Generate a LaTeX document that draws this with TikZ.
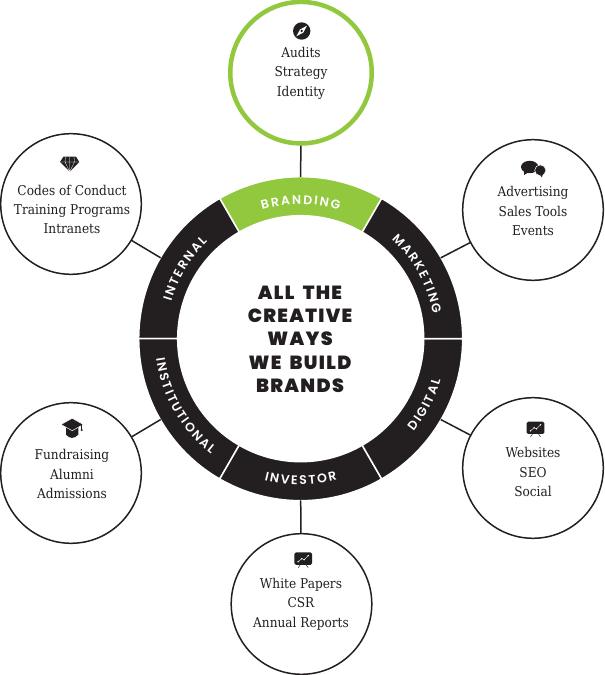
\documentclass[tikz,border=0pt]{standalone}
\usepackage{fontspec}
\usetikzlibrary{decorations.text}
\newfontfamily\listfont[FakeStretch=0.9]{DejaVu Serif}
\newfontfamily\ringfont{Poppins SemiBold}
\newfontfamily\headfont[LetterSpace=7,WordSpace=1.8]{Poppins Black}
\definecolor{ringblack}{HTML}{231F20}
\definecolor{ringgreen}{HTML}{91C83E}
\newcommand{\rk}{\kern1.8pt}
\tikzset{
  bubble/.style = {circle, draw = ringblack, line width = 1.5pt, fill = white, minimum size = 140.6pt, inner sep = 0pt},
  bubblegreen/.style = {bubble, draw = ringgreen, line width = 4.5pt, minimum size = 141.5pt},
  listing/.style = {align = center, inner sep = 0pt, text = ringblack, font = \listfont\fontsize{13.5}{19.4}\selectfont},
  link/.style = {draw = ringblack, line width = 1.5pt},
  sector/.style = {fill = ringblack, draw = white, line width = 1.5pt},
  ringlabel/.style = {postaction = {decorate}, decoration = {text along path, text align = center, text = {|\ringfont\fontsize{12.5}{13}\selectfont\color{white}|#1}}}
}
\begin{document}
\begin{tikzpicture}[x = 1pt, y = 1pt]
\useasboundingbox (0,0) rectangle (605,675);
\node[bubblegreen] (audits) at (301,602.3) {};
\node[bubble] (internal) at (71,471) {};
\node[bubble] (marketing) at (533,465) {};
\node[bubble] (institutional) at (71,202) {};
\node[bubble] (digital) at (533,207) {};
\node[bubble] (investor) at (301.5,71) {};
\node[listing] (auditstext) at (301,602) {Audits\\Strategy\\Identity};
\node[listing] (internaltext) at (72,465.5) {Codes of Conduct\\Training Programs\\Intranets};
\node[listing] (marketingtext) at (533,464) {Advertising\\Sales Tools\\Events};
\node[listing] (institutionaltext) at (72,201) {Fundraising\\Alumni\\Admissions};
\node[listing] (digitaltext) at (533,203) {Websites\\SEO\\Social};
\node[listing] (investortext) at (301,71) {White Papers\\CSR\\Annual Reports};
\begin{scope}[shift = {(300.7,336.3)}]
\node[circle, minimum size = 323pt, inner sep = 0pt] (ring) at (0,0) {};
\filldraw[sector, fill = ringgreen] (60:123) arc[start angle = 60, end angle = 120, radius = 123] -- (120:162) arc[start angle = 120, end angle = 60, radius = 162] -- cycle;
\filldraw[sector] (120:123) arc[start angle = 120, end angle = 180, radius = 123] -- (180:162) arc[start angle = 180, end angle = 120, radius = 162] -- cycle;
\filldraw[sector] (180:123) arc[start angle = 180, end angle = 240, radius = 123] -- (240:162) arc[start angle = 240, end angle = 180, radius = 162] -- cycle;
\filldraw[sector] (240:123) arc[start angle = 240, end angle = 300, radius = 123] -- (300:162) arc[start angle = 300, end angle = 240, radius = 162] -- cycle;
\filldraw[sector] (300:123) arc[start angle = 300, end angle = 360, radius = 123] -- (0:162) arc[start angle = 360, end angle = 300, radius = 162] -- cycle;
\filldraw[sector] (0:123) arc[start angle = 0, end angle = 60, radius = 123] -- (60:162) arc[start angle = 60, end angle = 0, radius = 162] -- cycle;
\path[ringlabel = {{B\rk}{R\rk}{A\rk}{N\rk}{D\rk}{I\rk}{N\rk}{G}}] (125:134.5) arc[start angle = 125, end angle = 55, radius = 134.5];
\path[ringlabel = {{I\rk}{N\rk}{T\rk}{E\rk}{R\rk}{N\rk}{A\rk}{L}}] (184:134.5) arc[start angle = 184, end angle = 114, radius = 134.5];
\path[ringlabel = {{M\rk}{A\rk}{R\rk}{K\rk}{E\rk}{T\rk}{I\rk}{N\rk}{G}}] (64:134.5) arc[start angle = 64, end angle = -6, radius = 134.5];
\path[ringlabel = {{I\rk}{N\rk}{S\rk}{T\rk}{I\rk}{T\rk}{U\rk}{T\rk}{I\rk}{O\rk}{N\rk}{A\rk}{L}}] (165:146) arc[start angle = 165, end angle = 255, radius = 146];
\path[ringlabel = {{I\rk}{N\rk}{V\rk}{E\rk}{S\rk}{T\rk}{O\rk}{R}}] (235:146) arc[start angle = 235, end angle = 305, radius = 146];
\path[ringlabel = {{D\rk}{I\rk}{G\rk}{I\rk}{T\rk}{A\rk}{L}}] (-63:146) arc[start angle = -63, end angle = 7, radius = 146];
\node[align = center, inner sep = 0pt, text = ringblack, font = \headfont\fontsize{19}{23.2}\selectfont] (heading) at (-0.7,-0.5) {ALL THE\\CREATIVE\hspace*{7pt}\\WAYS\\WE BUILD\\BRANDS};
\end{scope}
\draw[link] (ring.90) -- (audits);
\draw[link] (ring.150) -- (internal);
\draw[link] (ring.30) -- (marketing);
\draw[link] (ring.210) -- (institutional);
\draw[link] (ring.330) -- (digital);
\draw[link] (ring.270) -- (investor);
\fill[ringblack] (301.7,644) circle (8.7);
\fill[white] (307,649.3) -- (303.3,642.4) -- (296.4,638.7) -- (300.1,645.6) -- cycle;
\fill[ringblack] (301.7,644) circle (1.3);
\fill[ringblack] (63.5,518.3) -- (76,518.3) -- (79.3,513) -- (69.7,503.3) -- (60,513) -- cycle;
\draw[white, line width = 0.3pt] (60,513) -- (79.3,513) (65.5,518.3) -- (65,513) -- (69.7,503.3) -- (74.4,513) -- (74,518.3) (69.7,518.3) -- (69.7,503.3);
\fill[ringblack] (529.7,508) ellipse (8.7 and 6.2);
\fill[ringblack] (524,510) -- (524,500) -- (531,504) -- cycle;
\filldraw[fill = ringblack, draw = white, line width = 0.5pt] (540.3,504.7) ellipse (5.6 and 5.4);
\fill[ringblack] (538,503) -- (541.7,497.7) -- (544,503) -- cycle;
\fill[ringblack] (66,250) -- (66,240.3) .. controls (70,236) and (74,236) .. (78.3,240.3) -- (78.3,250) -- cycle;
\filldraw[fill = ringblack, draw = white, line width = 0.5pt] (61,250.5) -- (72.2,256.7) -- (83.3,250.5) -- (72.2,244.3) -- cycle;
\draw[ringblack, line width = 0.6pt] (81.7,250.5) -- (81.7,246);
\fill[ringblack] (81.7,245) circle (1.2);
\begin{scope}[shift = {(535.5,247.2)}]
\fill[ringblack, rounded corners = 1.5pt] (-8.8,-6.2) rectangle (8.8,6.2);
\draw[ringblack, line width = 0.5pt] (-3,-6.2) -- (-5,-9) (3,-6.2) -- (5,-9);
\draw[white, line width = 0.4pt] (-5,-3) -- (-1.5,0) -- (1,-1) -- (5,3);
\fill[white] (-5,-3) circle (0.8) (-1.5,0) circle (0.8) (1,-1) circle (0.8) (5,3) circle (0.8);
\end{scope}
\begin{scope}[shift = {(303.2,116.3)}]
\fill[ringblack, rounded corners = 1.5pt] (-8.8,-6.2) rectangle (8.8,6.2);
\draw[ringblack, line width = 0.5pt] (-3,-6.2) -- (-5,-9) (3,-6.2) -- (5,-9);
\draw[white, line width = 0.4pt] (-5,-3) -- (-1.5,0) -- (1,-1) -- (5,3);
\fill[white] (-5,-3) circle (0.8) (-1.5,0) circle (0.8) (1,-1) circle (0.8) (5,3) circle (0.8);
\end{scope}
\end{tikzpicture}
\end{document}
